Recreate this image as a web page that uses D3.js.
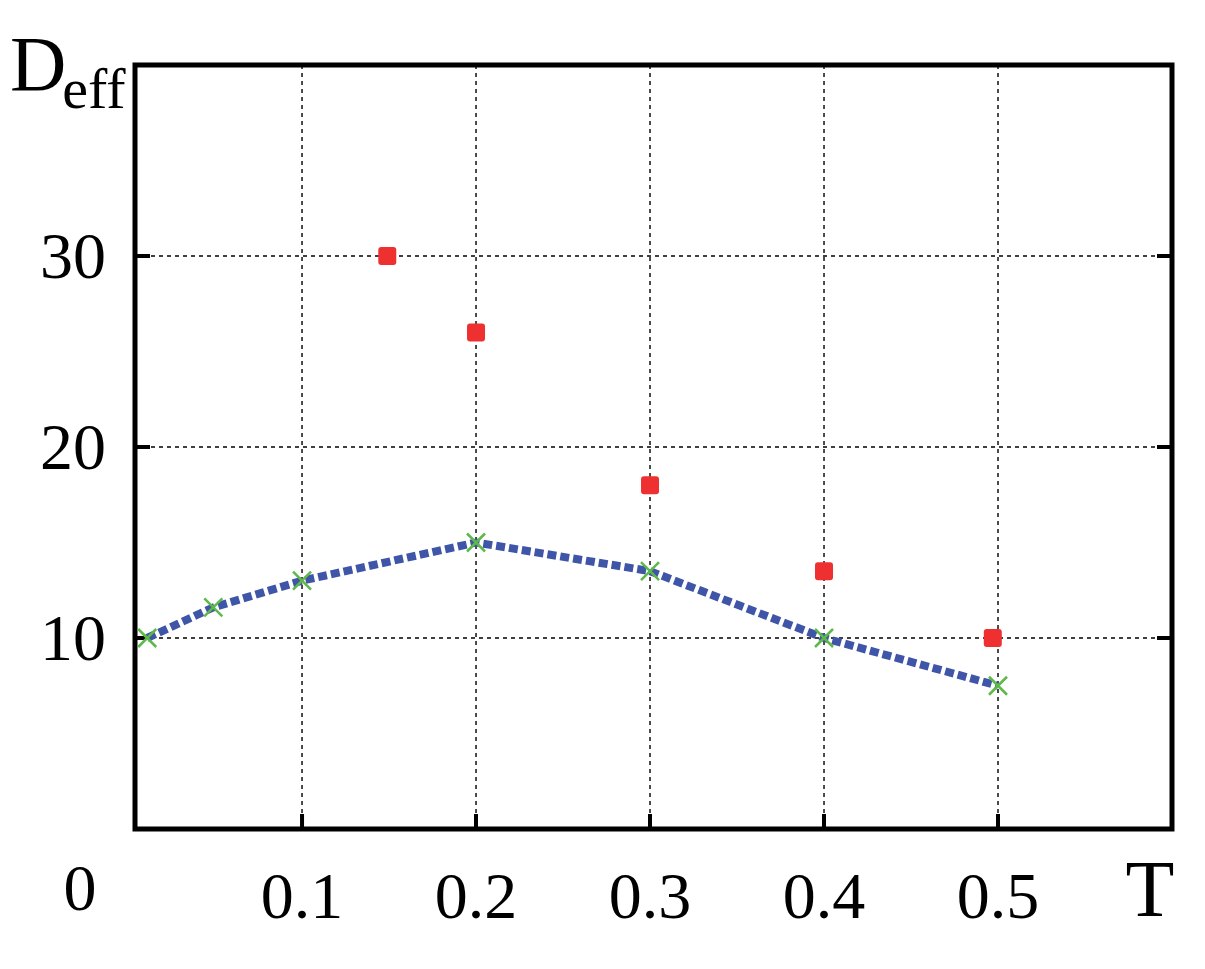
<!DOCTYPE html><html><head><meta charset="utf-8">
<script src="https://cdn.jsdelivr.net/npm/d3@7"></script>
<style>body{margin:0;background:#fff}</style></head><body>
<svg id="c" width="1205" height="969"></svg>
<script>
const lineT=[0.011,0.049,0.1,0.2,0.3,0.4,0.5];
const lineD=[10,11.6,13,15,13.5,10,7.5];
const ptT=[0.149,0.2,0.3,0.4,0.497];
const ptD=[30,26,18,13.5,10];
const xTicks=[0.1,0.2,0.3,0.4,0.5];
const yTicks=[10,20,30];
const svg=d3.select("#c");
const x=d3.scaleLinear().domain([0.004,0.6]).range([135,1172]);
const y=d3.scaleLinear().domain([0,40]).range([829,65]);
const font="Liberation Serif, Times New Roman, serif";
svg.selectAll(".gx").data(xTicks).enter().append("line").attr("x1",d=>x(d)).attr("x2",d=>x(d)).attr("y1",y(40)).attr("y2",y(0)).attr("stroke","#000").attr("stroke-width",1.4).attr("stroke-dasharray","4,4");
svg.selectAll(".gy").data(yTicks).enter().append("line").attr("y1",d=>y(d)).attr("y2",d=>y(d)).attr("x1",x(0.004)).attr("x2",x(0.6)).attr("stroke","#000").attr("stroke-width",1.4).attr("stroke-dasharray","4,4");
svg.selectAll(".tx").data(xTicks).enter().append("line").attr("x1",d=>x(d)).attr("x2",d=>x(d)).attr("y1",y(0)).attr("y2",y(0)-15).attr("stroke","#000").attr("stroke-width",4);
svg.selectAll(".tyl").data(yTicks).enter().append("line").attr("y1",d=>y(d)).attr("y2",d=>y(d)).attr("x1",x(0.004)).attr("x2",x(0.004)+15).attr("stroke","#000").attr("stroke-width",4);
svg.selectAll(".tyr").data(yTicks).enter().append("line").attr("y1",d=>y(d)).attr("y2",d=>y(d)).attr("x1",x(0.6)).attr("x2",x(0.6)-15).attr("stroke","#000").attr("stroke-width",4);
svg.append("rect").attr("x",x(0.004)).attr("y",y(40)).attr("width",x(0.6)-x(0.004)).attr("height",y(0)-y(40)).attr("fill","none").attr("stroke","#000").attr("stroke-width",5);
const pts=lineT.map((t,i)=>[t,lineD[i]]);
svg.append("path").attr("d",d3.line().x(d=>x(d[0])).y(d=>y(d[1]))(pts)).attr("fill","none").attr("stroke","#3f55a8").attr("stroke-width",8).attr("stroke-dasharray","9,4");
svg.selectAll(".cx").data(pts).enter().append("path").attr("d",d=>{const a=x(d[0]),b=y(d[1]),s=9;return `M${a-s},${b-s}L${a+s},${b+s}M${a-s},${b+s}L${a+s},${b-s}`;}).attr("stroke","#5db94a").attr("stroke-width",2.5);
svg.selectAll(".sq").data(ptT.map((t,i)=>[t,ptD[i]])).enter().append("rect").attr("x",d=>x(d[0])-9).attr("y",d=>y(d[1])-9).attr("width",18).attr("height",18).attr("rx",3).attr("fill","#ee3030");
svg.selectAll(".lx").data(xTicks).enter().append("text").attr("x",d=>x(d)).attr("y",918).attr("text-anchor","middle").attr("font-family",font).attr("font-size",66).text(d=>d.toFixed(1));
svg.selectAll(".ly").data(yTicks).enter().append("text").attr("x",106).attr("y",d=>y(d)+22).attr("text-anchor","end").attr("font-family",font).attr("font-size",66).text(d=>d);
svg.append("text").attr("x",80).attr("y",910).attr("text-anchor","middle").attr("font-family",font).attr("font-size",66).text("0");
svg.append("text").attr("x",1150).attr("y",916).attr("text-anchor","middle").attr("font-family",font).attr("font-size",80).text("T");
const yl=svg.append("text").attr("x",10).attr("y",90).attr("font-family",font).attr("font-size",78);
yl.append("tspan").text("D");
yl.append("tspan").attr("font-size",58).attr("dy",18).attr("dx",-4).text("eff");
</script></body></html>
